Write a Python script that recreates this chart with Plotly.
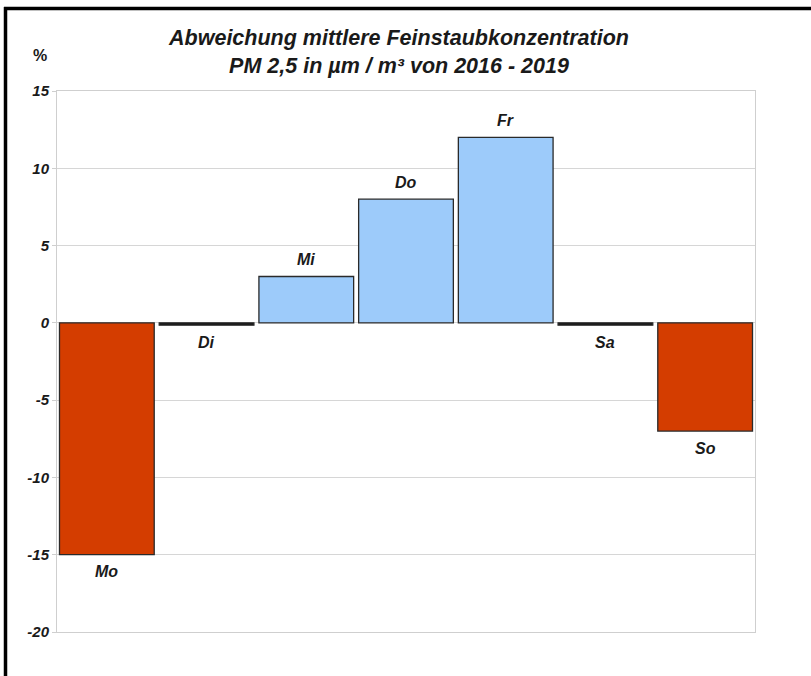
import plotly.graph_objects as go

categories = ["Mo", "Di", "Mi", "Do", "Fr", "Sa", "So"]
values = [-15, -0.15, 3, 8, 12, -0.15, -7]
bar_colors = ["#D43D00", "#111111", "#9DCBFA", "#9DCBFA", "#9DCBFA", "#111111", "#D43D00"]
y_ticks = [15, 10, 5, 0, -5, -10, -15, -20]
y_tick_text = ["15", "10", "5", "0", "-5", "-10", "-15", "-20"]
title_lines = ["Abweichung mittlere Feinstaubkonzentration", "PM 2,5 in µm / m³ von 2016 - 2019"]

FONT = "Liberation Sans, Arial, sans-serif"

W, H = 811, 676
ML, MR, MT, MB = 57, 56, 91, 44
PW, PH = W - ML - MR, H - MT - MB


def px_x(px):
    return (px - ML) / PW


def px_y(py):
    return (H - MB - py) / PH


fig = go.Figure()
fig.add_trace(go.Bar(
    x=categories,
    y=values,
    marker=dict(color=bar_colors, line=dict(color="#2a2a2a", width=1.3)),
    width=0.95,
    hoverinfo="x+y",
))

for c, v in zip(categories, values):
    fig.add_annotation(
        x=c, y=v, xref="x", yref="y",
        text=c, showarrow=False,
        yanchor="middle",
        yshift=(17 if v > 0 else -17),
        font=dict(family=FONT, size=16, color="#1a1a1a", weight="bold", style="italic"),
    )

fig.add_annotation(
    x=px_x(40), y=px_y(55), xref="paper", yref="paper",
    xanchor="center", yanchor="middle",
    text="%", showarrow=False,
    font=dict(family=FONT, size=16, color="#1a1a1a", weight="bold"),
)

# outer frame: only the top and left edges are visible in the crop
fig.add_shape(type="line", xref="paper", yref="paper",
              x0=px_x(4), y0=px_y(8.5), x1=px_x(W), y1=px_y(8.5),
              line=dict(color="black", width=3.5), layer="above")
fig.add_shape(type="line", xref="paper", yref="paper",
              x0=px_x(5.5), y0=px_y(7), x1=px_x(5.5), y1=px_y(H),
              line=dict(color="black", width=3.5), layer="above")

fig.update_layout(
    width=W, height=H,
    margin=dict(l=ML, r=MR, t=MT, b=MB),
    paper_bgcolor="white", plot_bgcolor="white",
    showlegend=False,
    bargap=0.05,
    title=dict(
        text="<br>".join(title_lines),
        x=399 / W, xref="container", xanchor="center",
        y=1 - 45 / H, yref="container", yanchor="middle",
        font=dict(family=FONT, size=21.5, color="#1a1a1a", weight="bold", style="italic"),
    ),
    xaxis=dict(
        showticklabels=False, showgrid=False, zeroline=False,
        showline=True, mirror=True, linecolor="#cfcfcf", linewidth=1,
        range=[-0.5, 6.5],
    ),
    yaxis=dict(
        range=[-20, 15], tickvals=y_ticks, ticktext=y_tick_text,
        showgrid=True, gridcolor="#d6d6d6", gridwidth=1,
        zeroline=False,
        showline=True, mirror=True, linecolor="#cfcfcf", linewidth=1,
        ticks="outside", ticklen=4, tickcolor="#cfcfcf",
        tickfont=dict(family=FONT, size=15, color="#1a1a1a", weight="bold", style="italic"),
    ),
)

fig.write_html("out.html", config={"displayModeBar": False},
               post_script="document.body.style.margin='0';")
